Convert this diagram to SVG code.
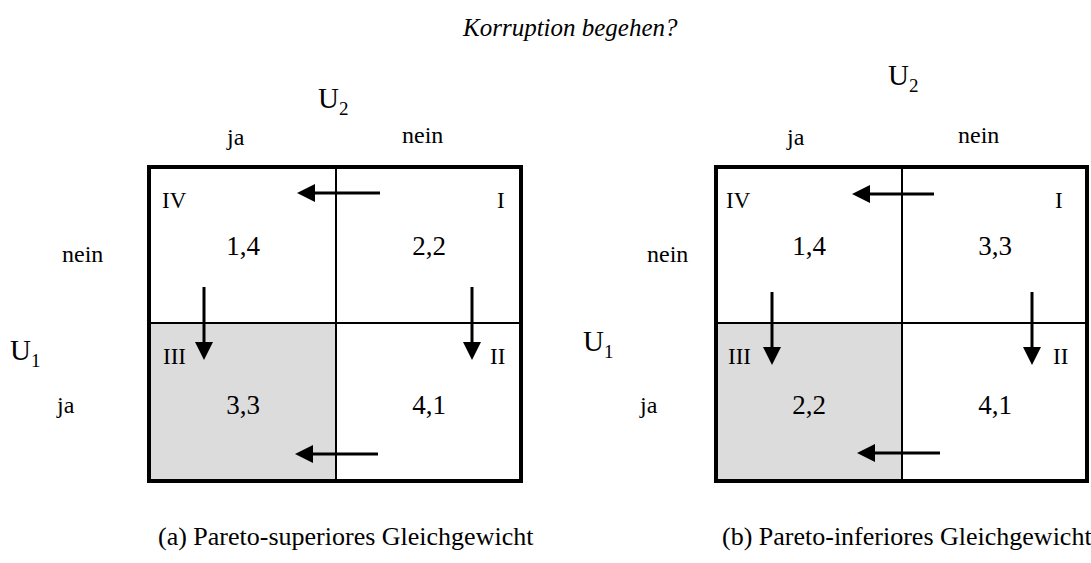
<svg xmlns="http://www.w3.org/2000/svg" width="1091" height="563" viewBox="0 0 1091 563">
<defs>
<marker id="ah" markerUnits="userSpaceOnUse" markerWidth="18" markerHeight="18" refX="8" refY="9" orient="auto">
<path d="M0,0 L18,9 L0,18 z" fill="#000"/>
</marker>
<style>
text{font-family:"Liberation Serif","Times New Roman",serif;fill:#000}
.t{font-size:25px;font-style:italic}
.u{font-size:29px}
.s{font-size:19px}
.l{font-size:24px}
.r{font-size:23px}
.n{font-size:27px;text-anchor:middle}
.c{font-size:26px}
.box{fill:none;stroke:#000;stroke-width:4}
.div{stroke:#000;stroke-width:2}
.sh{fill:#dcdcdc}
.arr{stroke:#000;stroke-width:3;marker-end:url(#ah)}
</style>
</defs>
<text class="t" x="463" y="36">Korruption begehen?</text>

<g id="panelA">
<g id="a-matrix">
<rect class="sh" x="149" y="323" width="187" height="158"/>
<line class="div" x1="336" y1="167" x2="336" y2="481"/>
<line class="div" x1="149" y1="323" x2="521" y2="323"/>
<rect class="box" x="149" y="167" width="372" height="314"/>
</g>
<g id="a-labels">
<text class="u" x="318" y="108">U<tspan class="s" dy="7">2</tspan></text>
<text class="l" x="227" y="145">ja</text>
<text class="l" x="402" y="143">nein</text>
<text class="l" x="62" y="262">nein</text>
<text class="l" x="57" y="413">ja</text>
<text class="u" x="10" y="360">U<tspan class="s" dy="7">1</tspan></text>
</g>
<g id="a-cellIV"><text class="r" x="162" y="208">IV</text><text class="n" x="243" y="255">1,4</text></g>
<g id="a-cellI"><text class="r" x="497" y="208">I</text><text class="n" x="429" y="255">2,2</text></g>
<g id="a-cellIII"><text class="r" x="163" y="364">III</text><text class="n" x="243" y="414">3,3</text></g>
<g id="a-cellII"><text class="r" x="490" y="364">II</text><text class="n" x="429" y="414">4,1</text></g>
<text class="c" x="158" y="545">(a) Pareto-superiores Gleichgewicht</text>
</g>

<g id="panelB">
<g id="b-matrix">
<rect class="sh" x="716" y="323" width="186" height="158"/>
<line class="div" x1="902" y1="167" x2="902" y2="481"/>
<line class="div" x1="716" y1="323" x2="1087" y2="323"/>
<rect class="box" x="716" y="167" width="371" height="314"/>
</g>
<g id="b-labels">
<text class="u" x="888" y="85">U<tspan class="s" dy="7">2</tspan></text>
<text class="l" x="787" y="145">ja</text>
<text class="l" x="958" y="143">nein</text>
<text class="l" x="647" y="262">nein</text>
<text class="l" x="640" y="413">ja</text>
<text class="u" x="583" y="351">U<tspan class="s" dy="7">1</tspan></text>
</g>
<g id="b-cellIV"><text class="r" x="726" y="208">IV</text><text class="n" x="809" y="255">1,4</text></g>
<g id="b-cellI"><text class="r" x="1055" y="208">I</text><text class="n" x="995" y="255">3,3</text></g>
<g id="b-cellIII"><text class="r" x="728" y="364">III</text><text class="n" x="809" y="414">2,2</text></g>
<g id="b-cellII"><text class="r" x="1053" y="364">II</text><text class="n" x="995" y="414">4,1</text></g>
<text class="c" x="722" y="545">(b) Pareto-inferiores Gleichgewicht</text>
</g>

<g id="connectors">
<line class="arr" x1="380" y1="193" x2="307" y2="193"/>
<line class="arr" x1="204" y1="287" x2="204" y2="350"/>
<line class="arr" x1="472" y1="287" x2="472" y2="350"/>
<line class="arr" x1="378" y1="454" x2="305" y2="454"/>
<line class="arr" x1="934" y1="194" x2="862" y2="194"/>
<line class="arr" x1="772" y1="292" x2="772" y2="355"/>
<line class="arr" x1="1032" y1="292" x2="1032" y2="355"/>
<line class="arr" x1="940" y1="453" x2="867" y2="453"/>
</g>
</svg>
